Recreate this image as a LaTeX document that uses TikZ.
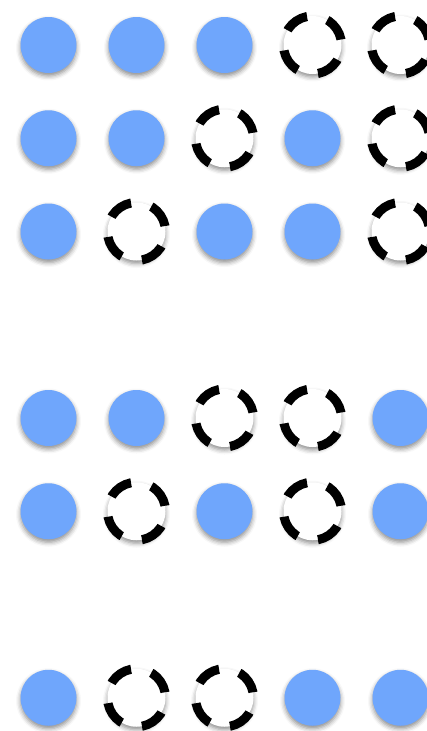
\documentclass[tikz,border=0pt]{standalone}
\usetikzlibrary{shadows.blur}
\definecolor{dotblue}{HTML}{6FA6FC}
\tikzset{
  x=1pt,y=1pt,
  soft/.style={blur shadow={shadow xshift=0pt,shadow yshift=-3pt,shadow blur radius=4.5pt,shadow opacity=45}},
  bluedot/.style={circle,minimum size=56pt,inner sep=0pt,fill=dotblue,soft},
  dashdot/.style={circle,minimum size=58pt,inner sep=0pt,fill=white,draw=black,line width=9pt,
    dash pattern=on 24.5pt off 21pt,dash phase=40pt,soft}
}
\begin{document}
\begin{tikzpicture}
\useasboundingbox (0,0) rectangle (427,-731);
\node[bluedot] (r1c1) at (48.5,-45) {};
\node[bluedot] (r1c2) at (136.5,-45) {};
\node[bluedot] (r1c3) at (224.5,-45) {};
\node[dashdot] (r1c4) at (312.5,-45) {};
\node[dashdot] (r1c5) at (400.5,-45) {};
\node[bluedot] (r2c1) at (48.5,-138.25) {};
\node[bluedot] (r2c2) at (136.5,-138.25) {};
\node[dashdot] (r2c3) at (224.5,-138.25) {};
\node[bluedot] (r2c4) at (312.5,-138.25) {};
\node[dashdot] (r2c5) at (400.5,-138.25) {};
\node[bluedot] (r3c1) at (48.5,-231.5) {};
\node[dashdot] (r3c2) at (136.5,-231.5) {};
\node[bluedot] (r3c3) at (224.5,-231.5) {};
\node[bluedot] (r3c4) at (312.5,-231.5) {};
\node[dashdot] (r3c5) at (400.5,-231.5) {};
\node[bluedot] (r4c1) at (48.5,-418) {};
\node[bluedot] (r4c2) at (136.5,-418) {};
\node[dashdot] (r4c3) at (224.5,-418) {};
\node[dashdot] (r4c4) at (312.5,-418) {};
\node[bluedot] (r4c5) at (400.5,-418) {};
\node[bluedot] (r5c1) at (48.5,-511.25) {};
\node[dashdot] (r5c2) at (136.5,-511.25) {};
\node[bluedot] (r5c3) at (224.5,-511.25) {};
\node[dashdot] (r5c4) at (312.5,-511.25) {};
\node[bluedot] (r5c5) at (400.5,-511.25) {};
\node[bluedot] (r6c1) at (48.5,-697.75) {};
\node[dashdot] (r6c2) at (136.5,-697.75) {};
\node[dashdot] (r6c3) at (224.5,-697.75) {};
\node[bluedot] (r6c4) at (312.5,-697.75) {};
\node[bluedot] (r6c5) at (400.5,-697.75) {};
\end{tikzpicture}
\end{document}
